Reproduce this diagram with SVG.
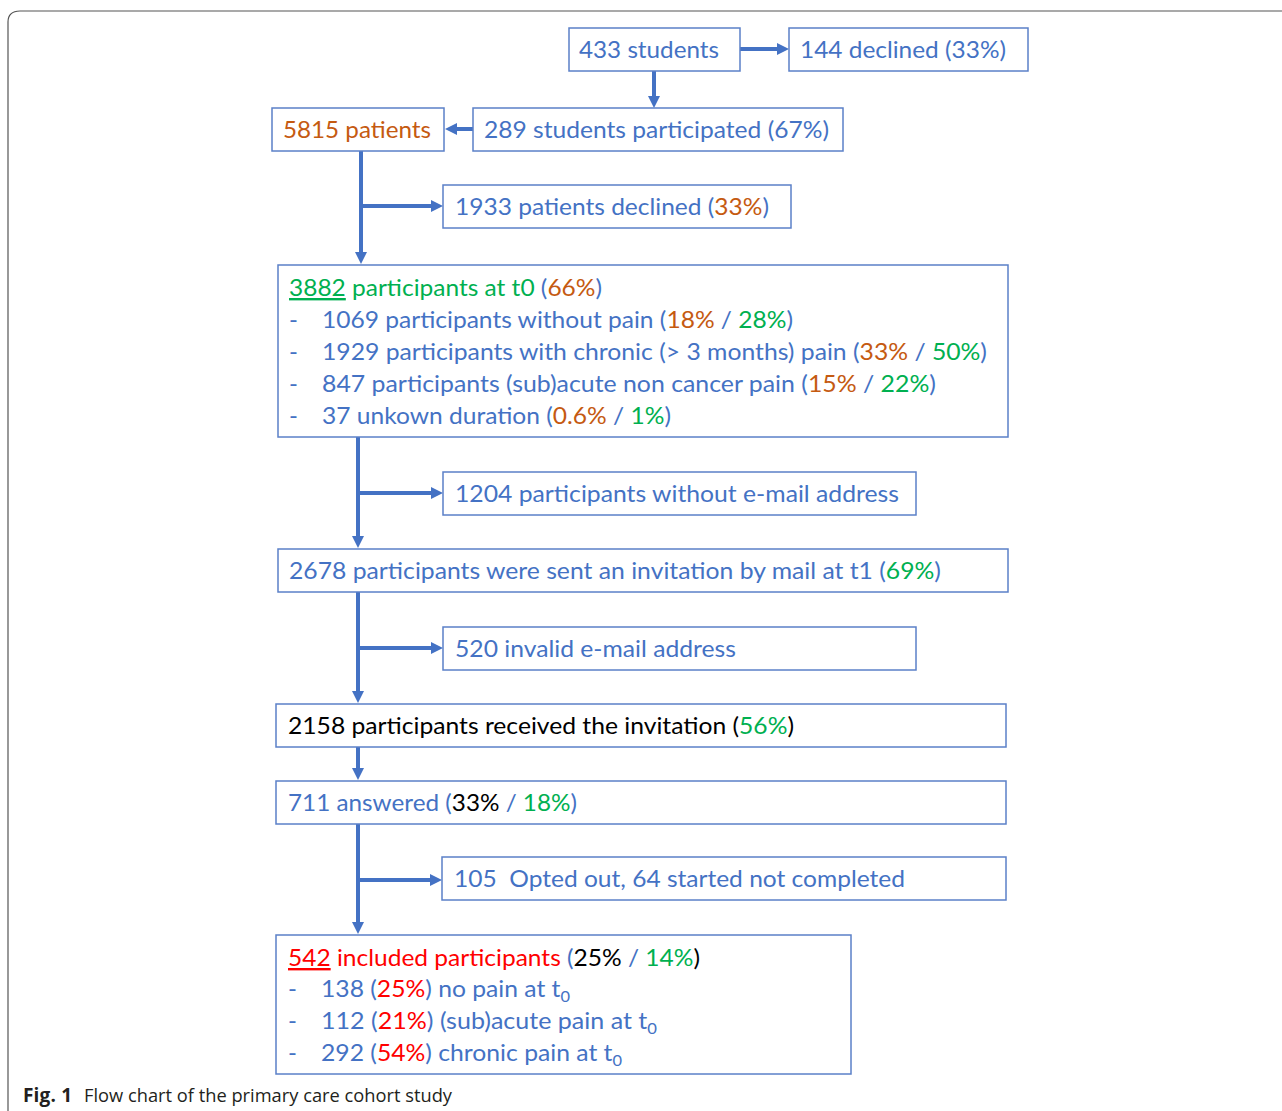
<svg xmlns="http://www.w3.org/2000/svg" width="1282" height="1111" viewBox="0 0 1282 1111">
<style>
.box{fill:#fff;stroke:#5B80C8;stroke-width:1.5}
.t{font-family:Lato,"Open Sans","Liberation Sans",sans-serif;font-size:24px;fill:#4472C4}
.o{fill:#C55A11}.g{fill:#00B050}.r{fill:#FF0000}.k{fill:#000}
.c{stroke:#4472C4;stroke-width:4;fill:none}
.cap{font-family:"Open Sans","Liberation Sans",sans-serif;font-size:19px;fill:#231F20}
</style>
<defs>
<marker id="ah" markerUnits="userSpaceOnUse" markerWidth="12" markerHeight="12" refX="0" refY="6" orient="auto" viewBox="0 0 12 12">
<path d="M0,0 L12,6 L0,12 z" fill="#4472C4"/>
</marker>
</defs>
<rect width="1282" height="1111" fill="#fff"/>
<path d="M8,1111 L8,22 Q8,11 20,11 L1282,11" fill="none" stroke="#555" stroke-width="1.2"/>

<g id="connectors">
<line class="c" x1="740" y1="49" x2="777" y2="49" marker-end="url(#ah)"/>
<line class="c" x1="654" y1="71" x2="654" y2="96" marker-end="url(#ah)"/>
<line class="c" x1="473" y1="129" x2="457" y2="129" marker-end="url(#ah)"/>
<line class="c" x1="361" y1="151" x2="361" y2="252" marker-end="url(#ah)"/>
<line class="c" x1="361" y1="206" x2="431" y2="206" marker-end="url(#ah)"/>
<line class="c" x1="358" y1="437" x2="358" y2="536" marker-end="url(#ah)"/>
<line class="c" x1="358" y1="493" x2="431" y2="493" marker-end="url(#ah)"/>
<line class="c" x1="358" y1="592" x2="358" y2="691" marker-end="url(#ah)"/>
<line class="c" x1="358" y1="648" x2="431" y2="648" marker-end="url(#ah)"/>
<line class="c" x1="358" y1="747" x2="358" y2="768" marker-end="url(#ah)"/>
<line class="c" x1="358" y1="824" x2="358" y2="922" marker-end="url(#ah)"/>
<line class="c" x1="358" y1="880" x2="430" y2="880" marker-end="url(#ah)"/>
</g>

<g id="n433">
<rect class="box" x="569" y="28" width="171" height="43"/>
<text class="t" x="579" y="58" textLength="140" lengthAdjust="spacingAndGlyphs">433 students</text>
</g>
<g id="n144">
<rect class="box" x="789" y="28" width="239" height="43"/>
<text class="t" x="800" y="58" textLength="206" lengthAdjust="spacingAndGlyphs">144 declined (33%)</text>
</g>
<g id="n289">
<rect class="box" x="473" y="108" width="370" height="43"/>
<text class="t" x="484" y="138" textLength="345" lengthAdjust="spacingAndGlyphs">289 students participated (67%)</text>
</g>
<g id="n5815">
<rect class="box" x="272" y="108" width="172" height="43"/>
<text class="t o" x="283" y="138" textLength="148" lengthAdjust="spacingAndGlyphs">5815 patients</text>
</g>
<g id="n1933">
<rect class="box" x="443" y="185" width="348" height="43"/>
<text class="t" x="455" y="215" textLength="314" lengthAdjust="spacingAndGlyphs">1933 patients declined (<tspan class="o">33%</tspan>)</text>
</g>
<g id="n3882">
<rect class="box" x="278" y="265" width="730" height="172"/>
<text class="t" x="289" y="296" textLength="313" lengthAdjust="spacingAndGlyphs"><tspan class="g" text-decoration="underline">3882</tspan><tspan class="g"> participants at t0 </tspan>(<tspan class="o">66%</tspan>)</text>
<text class="t" x="289" y="328">-</text>
<text class="t" x="322" y="328" textLength="471" lengthAdjust="spacingAndGlyphs">1069 participants without pain (<tspan class="o">18%</tspan> / <tspan class="g">28%</tspan>)</text>
<text class="t" x="289" y="360">-</text>
<text class="t" x="322" y="360" textLength="665" lengthAdjust="spacingAndGlyphs">1929 participants with chronic (&gt; 3 months) pain (<tspan class="o">33%</tspan> / <tspan class="g">50%</tspan>)</text>
<text class="t" x="289" y="392">-</text>
<text class="t" x="322" y="392" textLength="614" lengthAdjust="spacingAndGlyphs">847 participants (sub)acute non cancer pain (<tspan class="o">15%</tspan> / <tspan class="g">22%</tspan>)</text>
<text class="t" x="289" y="424">-</text>
<text class="t" x="322" y="424" textLength="349" lengthAdjust="spacingAndGlyphs">37 unkown duration (<tspan class="o">0.6%</tspan> / <tspan class="g">1%</tspan>)</text>
</g>
<g id="n1204">
<rect class="box" x="443" y="472" width="473" height="43"/>
<text class="t" x="455" y="502" textLength="444" lengthAdjust="spacingAndGlyphs">1204 participants without e-mail address</text>
</g>
<g id="n2678">
<rect class="box" x="278" y="549" width="730" height="43"/>
<text class="t" x="289" y="579" textLength="652" lengthAdjust="spacingAndGlyphs">2678 participants were sent an invitation by mail at t1 (<tspan class="g">69%</tspan>)</text>
</g>
<g id="n520">
<rect class="box" x="443" y="627" width="473" height="43"/>
<text class="t" x="455" y="657" textLength="281" lengthAdjust="spacingAndGlyphs">520 invalid e-mail address</text>
</g>
<g id="n2158">
<rect class="box" x="276" y="704" width="730" height="43"/>
<text class="t k" x="288" y="734" textLength="506" lengthAdjust="spacingAndGlyphs">2158 participants received the invitation (<tspan class="g">56%</tspan>)</text>
</g>
<g id="n711">
<rect class="box" x="276" y="781" width="730" height="43"/>
<text class="t" x="288" y="811" textLength="289" lengthAdjust="spacingAndGlyphs">711 answered (<tspan class="k">33%</tspan> / <tspan class="g">18%</tspan>)</text>
</g>
<g id="n105">
<rect class="box" x="442" y="857" width="564" height="43"/>
<text class="t" x="454" y="887" textLength="451" lengthAdjust="spacingAndGlyphs" xml:space="preserve">105  Opted out, 64 started not completed</text>
</g>
<g id="n542">
<rect class="box" x="276" y="935" width="575" height="139"/>
<text class="t" x="288" y="966" textLength="412" lengthAdjust="spacingAndGlyphs"><tspan class="r" text-decoration="underline">542</tspan><tspan class="r"> included participants </tspan>(<tspan class="k">25%</tspan> / <tspan class="g">14%</tspan><tspan class="k">)</tspan></text>
<text class="t" x="288" y="997">-</text>
<text class="t" x="321" y="997" textLength="249" lengthAdjust="spacingAndGlyphs">138 (<tspan class="r">25%</tspan>) no pain at t<tspan font-size="16" dy="5">0</tspan></text>
<text class="t" x="288" y="1029">-</text>
<text class="t" x="321" y="1029" textLength="336" lengthAdjust="spacingAndGlyphs">112 (<tspan class="r">21%</tspan>) (sub)acute pain at t<tspan font-size="16" dy="5">0</tspan></text>
<text class="t" x="288" y="1061">-</text>
<text class="t" x="321" y="1061" textLength="301" lengthAdjust="spacingAndGlyphs">292 (<tspan class="r">54%</tspan>) chronic pain at t<tspan font-size="16" dy="5">0</tspan></text>
</g>

<g id="caption">
<text class="cap" x="23" y="1102"><tspan font-weight="bold" textLength="49">Fig. 1</tspan></text>
<text class="cap" x="84" y="1102" textLength="368" lengthAdjust="spacingAndGlyphs">Flow chart of the primary care cohort study</text>
</g>
</svg>
